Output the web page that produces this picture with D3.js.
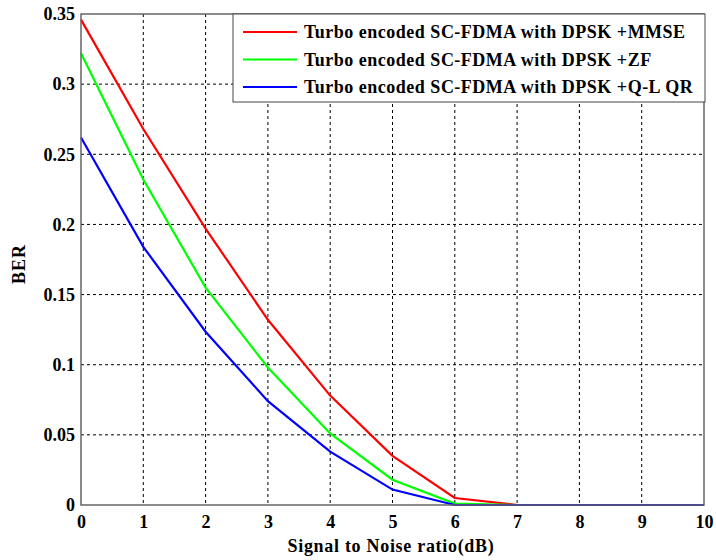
<!DOCTYPE html>
<html><head><meta charset="utf-8">
<script src="https://cdn.jsdelivr.net/npm/d3@7"></script>
<style>body{margin:0;background:#fff}svg{display:block}</style>
</head><body>
<script>
const snr = [0,1,2,3,4,5,6,7,8,9,10];
const berMMSE = [0.346,0.268,0.197,0.132,0.078,0.035,0.005,0,0,0,0];
const berZF   = [0.322,0.232,0.155,0.098,0.051,0.018,0.001,0,0,0,0];
const berQLQR = [0.262,0.184,0.1235,0.074,0.038,0.011,0,0,0,0,0];
const seriesNames = ["Turbo encoded SC-FDMA with DPSK +MMSE","Turbo encoded SC-FDMA with DPSK +ZF","Turbo encoded SC-FDMA with DPSK +Q-L QR"];
const seriesColors = ["#ff0000","#00ff00","#0000ff"];
const xTicks = [0,1,2,3,4,5,6,7,8,9,10];
const yTicks = [0,0.05,0.1,0.15,0.2,0.25,0.3,0.35];
const yTickLabels = ["0","0.05","0.1","0.15","0.2","0.25","0.3","0.35"];

const W=716,H=560, L=81,R=704,T=14,B=505;
const svg=d3.select("body").append("svg").attr("width",W).attr("height",H);
const x=d3.scaleLinear().domain([0,10]).range([L,R]);
const y=d3.scaleLinear().domain([0,0.35]).range([B,T]);
const font="'Liberation Serif','Times New Roman',serif";

// grid
const g=svg.append("g");
g.selectAll(".gx").data(xTicks.slice(1,-1)).enter().append("line")
 .attr("x1",d=>x(d)).attr("x2",d=>x(d)).attr("y1",T).attr("y2",B)
 .attr("stroke","#000").attr("stroke-width",1).attr("stroke-dasharray","3,3");
g.selectAll(".gy").data(yTicks.slice(1,-1)).enter().append("line")
 .attr("x1",L).attr("x2",R).attr("y1",d=>y(d)).attr("y2",d=>y(d))
 .attr("stroke","#000").attr("stroke-width",1).attr("stroke-dasharray","3,3");

// lines
const data=[berMMSE,berZF,berQLQR];
const line=d3.line().x((d,i)=>x(snr[i])).y(d=>y(d));
data.forEach((s,k)=>{
  svg.append("path").datum(s).attr("d",line).attr("fill","none")
   .attr("stroke",seriesColors[k]).attr("stroke-width",2.2);
});

// frame
svg.append("rect").attr("x",L).attr("y",T).attr("width",R-L).attr("height",B-T)
 .attr("fill","none").attr("stroke","#666").attr("stroke-width",1.5);

// axes
const xa=svg.append("g").attr("transform",`translate(0,${B})`)
 .call(d3.axisBottom(x).tickValues(xTicks).tickSize(0).tickPadding(9).tickFormat(d3.format("d")));
const ya=svg.append("g").attr("transform",`translate(${L},0)`)
 .call(d3.axisLeft(y).tickValues(yTicks).tickSize(0).tickPadding(6).tickFormat((d,i)=>yTickLabels[i]));
[xa,ya].forEach(a=>{a.select(".domain").remove();
 a.selectAll("text").attr("font-family",font).attr("font-weight","bold").attr("font-size",18).attr("fill","#000");});
xa.selectAll("text").attr("dy","0.75em");

// axis titles
svg.append("text").attr("x",391).attr("y",552).attr("text-anchor","middle")
 .attr("font-family",font).attr("font-weight","bold").attr("font-size",18)
 .attr("letter-spacing","0.7px").text("Signal to Noise ratio(dB)");
svg.append("text").attr("transform",`translate(25,264) rotate(-90)`).attr("text-anchor","middle")
 .attr("font-family",font).attr("font-weight","bold").attr("font-size",18)
 .attr("letter-spacing","1px").text("BER");

// legend
const lg=svg.append("g");
lg.append("rect").attr("x",233).attr("y",14).attr("width",472).attr("height",88)
 .attr("fill","#fff").attr("stroke","#444").attr("stroke-width",1);
seriesNames.forEach((n,k)=>{
  const yy=32+k*27.5;
  lg.append("line").attr("x1",243).attr("x2",297).attr("y1",yy).attr("y2",yy)
   .attr("stroke",seriesColors[k]).attr("stroke-width",2.2);
  lg.append("text").attr("x",304).attr("y",yy).attr("dy","0.35em")
   .attr("font-family",font).attr("font-weight","bold").attr("font-size",18)
   .attr("letter-spacing","0.5px").text(n);
});
</script>
</body></html>
